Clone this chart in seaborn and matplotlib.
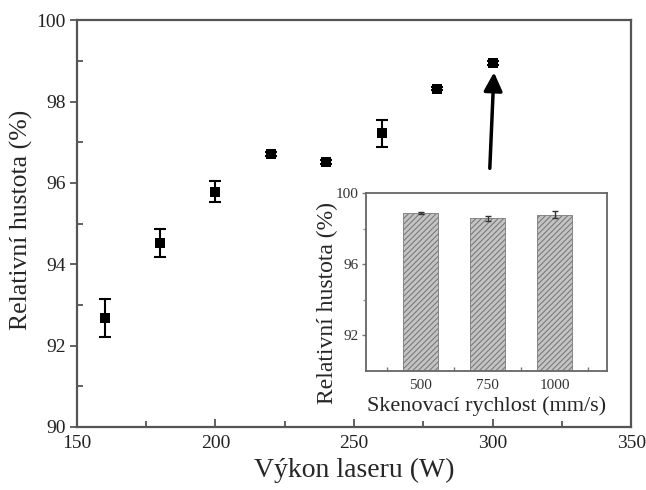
import numpy as np
import pandas as pd
import matplotlib
matplotlib.use("Agg")
import matplotlib.pyplot as plt
from matplotlib.ticker import MultipleLocator, FixedLocator
import seaborn as sns

# ---- data ----
power = [160, 180, 200, 220, 240, 260, 280, 300]
density = [92.68, 94.53, 95.78, 96.72, 96.52, 97.22, 98.32, 98.95]
density_err = [0.46, 0.35, 0.26, 0.05, 0.05, 0.33, 0.03, 0.05]

speeds = ["500", "750", "1000"]
speed_density = [98.88, 98.58, 98.80]
speed_err = [0.05, 0.15, 0.18]

main_xticks = [150, 200, 250, 300, 350]
main_yticks = [90, 92, 94, 96, 98, 100]
inset_yticks = [92, 96, 100]
inset_yticklabels = ["92", "96", "100"]

sns.set_style("ticks")
plt.rcParams["font.family"] = ["Liberation Serif", "DejaVu Serif"]
plt.rcParams["hatch.linewidth"] = 0.8

fig = plt.figure(figsize=(6.46, 4.90), dpi=100)
ax = fig.add_axes([0.119, 0.1286, 0.858, 0.830])

spine_col = "#555555"
df = pd.DataFrame({"power": power, "density": density})
ax.errorbar(power, density, yerr=density_err, fmt="none", ecolor="black",
            elinewidth=1.5, capsize=4, capthick=1.5, zorder=2)
sns.scatterplot(data=df, x="power", y="density", marker="s", color="black",
                s=42, edgecolor="black", linewidth=0, ax=ax, zorder=3)

ax.set_xlim(150, 350)
ax.set_ylim(90, 100)
ax.xaxis.set_major_locator(FixedLocator(main_xticks))
ax.yaxis.set_major_locator(FixedLocator(main_yticks))
ax.xaxis.set_minor_locator(MultipleLocator(25))
ax.yaxis.set_minor_locator(MultipleLocator(1))
ax.tick_params(axis="x", which="major", direction="in", length=6, width=1.3,
               color=spine_col, labelsize=14, pad=6, labelcolor="#222222")
ax.tick_params(axis="x", which="minor", direction="in", length=4, width=1.3,
               color=spine_col)
ax.tick_params(axis="y", which="major", direction="out", length=5, width=1.3,
               color=spine_col, labelsize=14, pad=3, labelcolor="#222222")
ax.tick_params(axis="y", which="minor", direction="in", length=4, width=1.3,
               color=spine_col)
for s in ax.spines.values():
    s.set_visible(True)
    s.set_color(spine_col)
    s.set_linewidth(1.6)
ax.set_xlabel("Výkon laseru (W)", fontsize=20, labelpad=4)
ax.set_ylabel("Relativní hustota (%)", fontsize=18.5)
ax.yaxis.set_label_coords(-0.079, 0.51)

ax.annotate("", xy=(300.5, 98.72), xytext=(299.0, 96.36),
            arrowprops=dict(arrowstyle="-|>", lw=2.5, color="black",
                            mutation_scale=28, shrinkA=0, shrinkB=0))

# ---- inset ----
axi = fig.add_axes([0.566, 0.2435, 0.374, 0.362])
dfi = pd.DataFrame({"speed": speeds, "density": speed_density})
sns.barplot(data=dfi, x="speed", y="density", order=speeds, color="#c4c4c4",
            width=0.52, errorbar=None, ax=axi, edgecolor="#7a7a7a",
            linewidth=0.6, hatch="//////")
axi.errorbar(np.arange(len(speeds)), speed_density, yerr=speed_err, fmt="none",
             ecolor="#333333", elinewidth=1.0, capsize=2, capthick=1.0)
axi.set_ylim(90, 100)
axi.set_xlim(-0.82, 2.78)
axi.yaxis.set_major_locator(FixedLocator(inset_yticks))
axi.set_yticklabels(inset_yticklabels)
axi.yaxis.set_minor_locator(FixedLocator([94, 98]))
axi.xaxis.set_minor_locator(FixedLocator([-0.5, 0.5, 1.5, 2.5]))
axi.tick_params(axis="x", which="major", length=0, labelsize=11, pad=6,
                labelcolor="#333333")
axi.tick_params(axis="x", which="minor", direction="in", length=3, width=1,
                color="#777777")
axi.tick_params(axis="y", which="major", direction="out", length=3, width=1,
                color="#777777", labelsize=11, labelcolor="#333333", pad=2)
axi.tick_params(axis="y", which="minor", direction="out", length=2, width=1,
                color="#999999")
for s in axi.spines.values():
    s.set_visible(True)
    s.set_color("#666666")
    s.set_linewidth(1.3)
axi.set_xlabel("Skenovací rychlost (mm/s)", fontsize=16, labelpad=3)
axi.set_ylabel("Relativní hustota (%)", fontsize=17)
axi.yaxis.set_label_coords(-0.116, 0.384)

fig.savefig("out.png", dpi=100)
